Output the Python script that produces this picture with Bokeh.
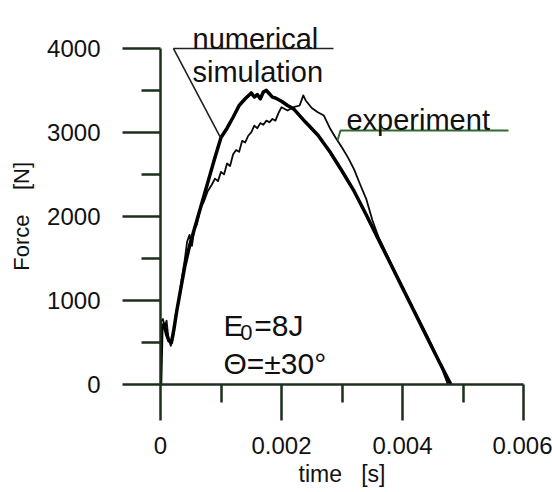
import math
from bokeh.plotting import figure
from bokeh.models import FixedTicker, Label
from bokeh.embed import file_html
from bokeh.resources import INLINE

# ---------------- data ----------------
sim_t = [0, 0.00002, 0.00006, 0.0001, 0.00014, 0.00018, 0.00022, 0.00027, 0.00032, 0.0004,
         0.00048, 0.00056, 0.00064, 0.00072, 0.0008, 0.0009, 0.001, 0.0011, 0.0012, 0.0013,
         0.0014, 0.0015, 0.00155, 0.0016, 0.00165, 0.0017, 0.00175, 0.0018, 0.00185, 0.0019,
         0.002, 0.0021, 0.0022, 0.0024, 0.0026, 0.0028, 0.003, 0.0032, 0.0034, 0.0036,
         0.0038, 0.004, 0.0042, 0.0044, 0.0046, 0.0048]
sim_F = [0, 650, 720, 600, 520, 500, 650, 880, 1080, 1400,
         1650, 1850, 2050, 2250, 2450, 2700, 2940, 3050, 3180, 3320,
         3400, 3470, 3420, 3450, 3400, 3480, 3500, 3460, 3420, 3410,
         3370, 3320, 3280, 3120, 2970, 2770, 2540, 2300, 2020, 1730,
         1440, 1150, 860, 570, 280, 0]

exp_t = [0, 0.00001, 0.00004, 0.00007, 0.0001, 0.00013, 0.00017, 0.00021, 0.00025, 0.0003,
         0.00035, 0.0004, 0.00044, 0.00048, 0.00052, 0.00056, 0.0006, 0.00066, 0.00072, 0.00078,
         0.00085, 0.0009, 0.00095, 0.001, 0.00105, 0.0011, 0.00115, 0.0012, 0.00125, 0.0013,
         0.00135, 0.0014, 0.00145, 0.0015, 0.00155, 0.0016, 0.00165, 0.0017, 0.00175, 0.0018,
         0.00185, 0.0019, 0.00195, 0.002, 0.0021, 0.0022, 0.0023, 0.00236, 0.0024, 0.0025,
         0.0026, 0.0027, 0.0028, 0.0029, 0.003, 0.0031, 0.0032, 0.0033, 0.0034, 0.0035,
         0.0036, 0.0038, 0.004, 0.0042, 0.0044, 0.0046, 0.00475]
exp_F = [0, 750, 780, 680, 760, 560, 460, 560, 820, 1000,
         1250, 1480, 1700, 1780, 1650, 1850, 1900, 2100, 2180, 2300,
         2380, 2450, 2420, 2530, 2500, 2630, 2600, 2740, 2790, 2770,
         2900, 2880, 2960, 3000, 3080, 3050, 3110, 3090, 3140, 3120,
         3160, 3140, 3230, 3300, 3260, 3300, 3320, 3440, 3380, 3290,
         3240, 3200, 3050, 2930, 2820, 2700, 2560, 2380, 2210, 1960,
         1760, 1460, 1160, 880, 590, 290, 0]

x_ticks = [0, 0.002, 0.004, 0.006]
x_minor = [0.001, 0.003, 0.005]
x_tick_labels = ["0", "0.002", "0.004", "0.006"]
y_ticks = [0, 1000, 2000, 3000, 4000]
y_minor = [500, 1500, 2500, 3500]

num_leader_t = [0.002859, 0.000215, 0.000992]
num_leader_F = [3998, 3998, 2939]
exp_leader_t = [0.005752, 0.002975, 0.002926]
exp_leader_F = [3023, 3023, 2904]

NB = "\u00a0"
x_title = "time" + NB * 3 + "[s]"
y_title = "Force" + NB * 4 + "[N]" + NB * 7

FONT = "Liberation Sans"
AXC = "#1c2e1c"
TXT = "#111111"

p = figure(width=552, height=492, x_range=(0, 0.006), y_range=(0, 4510),
           output_backend="svg", toolbar_location=None,
           min_border_left=160, min_border_right=29, min_border_top=5, min_border_bottom=108)
p.outline_line_color = None
p.xgrid.visible = False
p.ygrid.visible = False
p.background_fill_color = "white"
p.border_fill_color = "white"

# x axis
xa = p.xaxis[0]
xa.ticker = FixedTicker(ticks=x_ticks, minor_ticks=x_minor)
xa.major_label_overrides = {t: l for t, l in zip(x_ticks, x_tick_labels)}
xa.bounds = (0, 0.006)
xa.major_tick_out = 36
xa.major_tick_in = 0
xa.minor_tick_out = 18
xa.minor_tick_in = 0
xa.major_label_standoff = 16
xa.axis_line_width = 2.5
xa.major_tick_line_width = 2.5
xa.minor_tick_line_width = 2.5
xa.axis_line_color = AXC
xa.major_tick_line_color = AXC
xa.minor_tick_line_color = AXC
xa.major_label_text_font = FONT
xa.major_label_text_font_size = "24px"
xa.major_label_text_color = TXT
xa.axis_label = x_title
xa.axis_label_text_font = FONT
xa.axis_label_text_font_size = "23px"
xa.axis_label_text_font_style = "normal"
xa.axis_label_text_color = TXT
xa.axis_label_standoff = 4

# y axis
ya = p.yaxis[0]
ya.ticker = FixedTicker(ticks=y_ticks, minor_ticks=y_minor)
ya.bounds = (0, 4000)
ya.major_tick_out = 38
ya.major_tick_in = 0
ya.minor_tick_out = 19
ya.minor_tick_in = 0
ya.major_label_standoff = 22
ya.axis_line_width = 2.5
ya.major_tick_line_width = 2.5
ya.minor_tick_line_width = 2.5
ya.axis_line_color = AXC
ya.major_tick_line_color = AXC
ya.minor_tick_line_color = AXC
ya.major_label_text_font = FONT
ya.major_label_text_font_size = "24px"
ya.major_label_text_color = TXT
ya.axis_label = y_title
ya.axis_label_text_font = FONT
ya.axis_label_text_font_size = "22px"
ya.axis_label_text_font_style = "normal"
ya.axis_label_text_color = TXT
ya.axis_label_standoff = 10

# curves
p.line(exp_t, exp_F, line_color="#0a0a0a", line_width=1.8, line_join="round")
p.line(sim_t, sim_F, line_color="#000000", line_width=3.5, line_join="round")

# leaders
p.line(num_leader_t, num_leader_F, line_color="#222222", line_width=1.6)
p.line(exp_leader_t, exp_leader_F, line_color="#2f6a2f", line_width=2)

def lab(x, y, text, size, align="left"):
    p.add_layout(Label(x=x, y=y, text=text, text_font=FONT, text_font_size=size,
                       text_color=TXT, text_align=align, text_baseline="alphabetic"))

lab(0.000529, 4117, "numerical", "29px")
lab(0.000529, 3713, "simulation", "29px")
lab(0.003074, 3142, "experiment", "29px")
lab(0.001041, 702, "E", "30px")
lab(0.00132, 619, "0", "22px")
lab(0.00155, 702, "=8J", "30px")
lab(0.001041, 250, "\u0398=\u00b130\u00b0", "30px")

open("out.html", "w").write(file_html(p, INLINE))
